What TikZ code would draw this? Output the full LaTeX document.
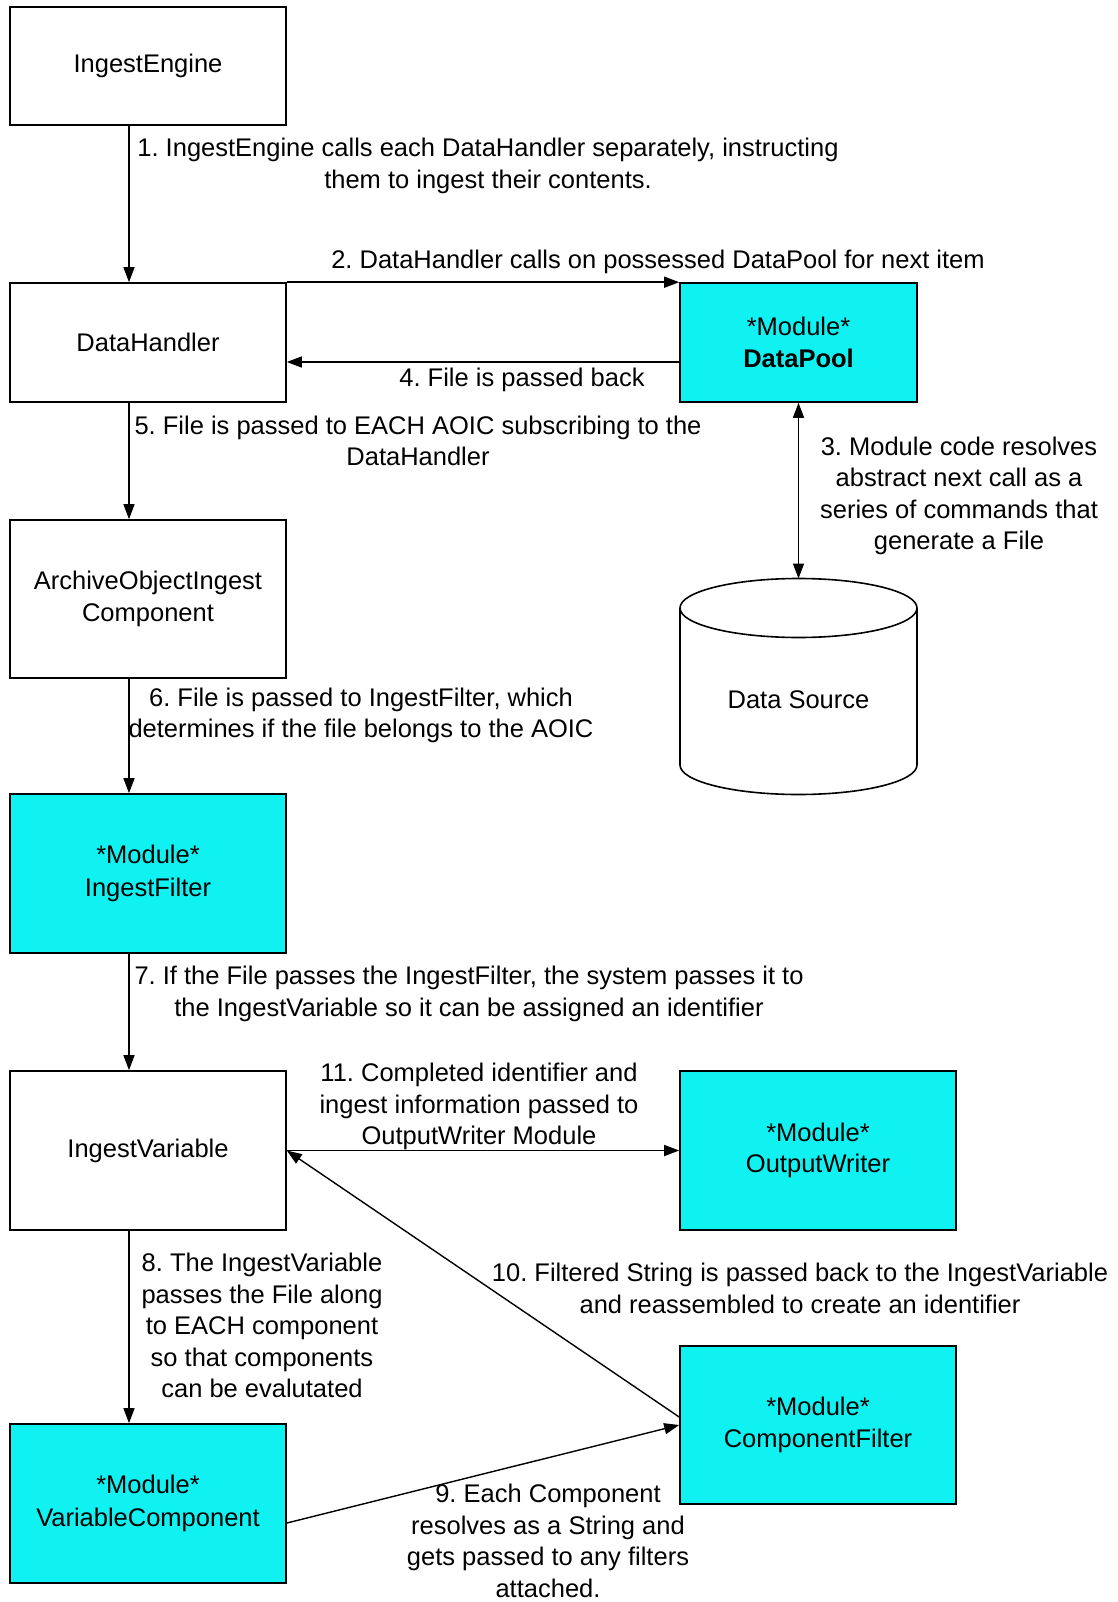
\documentclass[tikz,border=0pt]{standalone}
\usepackage{fontspec}
\setmainfont{Liberation Sans}
\frenchspacing
\usetikzlibrary{arrows.meta}
\definecolor{modcyan}{RGB}{16,242,242}
\tikzset{
  every node/.style={font=\fontsize{25.5}{31.5}\selectfont},
  box/.style={draw=black, line width=1.6pt, fill=white, align=center, inner sep=0pt},
  wbox/.style={box, minimum width=276pt},
  modbox/.style={box, fill=modcyan},
  lbl/.style={align=center, inner sep=0pt},
  arr/.style={line width=1.4pt, -{Triangle[length=15pt,width=11pt]}},
  darr/.style={line width=1.4pt, {Triangle[length=15pt,width=11pt]}-{Triangle[length=15pt,width=11pt]}},
}
\begin{document}
\begin{tikzpicture}[x=1pt,y=-1pt]
\useasboundingbox (0,0) rectangle (1117,1602);
\fill[white] (0,0) rectangle (1117,1602);

% boxes
\node[wbox, minimum height=118pt] (ie) at (148,66) {IngestEngine};
\node[wbox, minimum height=119pt] (dh) at (148,342.5) {DataHandler};
\node[modbox, minimum width=237pt, minimum height=119pt] (dp) at (798.5,342.5) {*Module*\\\textbf{DataPool}};
\node[wbox, minimum height=158pt] (aoic) at (148,599) {ArchiveObjectIngest\\Component};
\node[modbox, minimum width=276pt, minimum height=159pt] (ifl) at (148,873.5) {*Module*\\[2pt]IngestFilter};
\node[wbox, minimum height=159pt] (iv) at (148,1150.5) {IngestVariable};
\node[modbox, minimum width=276pt, minimum height=159pt] (ow) at (818,1150.5) {*Module*\\OutputWriter};
\node[modbox, minimum width=276pt, minimum height=158pt] (cf) at (818,1425) {*Module*\\ComponentFilter};
\node[modbox, minimum width=276pt, minimum height=159pt] (vc) at (148,1503.5) {*Module*\\[2pt]VariableComponent};

% data source cylinder
\draw[line width=1.6pt, fill=white] (680,608) -- (680,765) arc[start angle=180, end angle=360, x radius=118.5, y radius=-29.5] -- (917,608);
\draw[line width=1.6pt, fill=white] (798.5,608) ellipse [x radius=118.5, y radius=29.5];
\coordinate (dstop) at (798.5,578.5);
\node[lbl] (ds) at (798.5,700) {Data Source};

% column coordinate for the vertical arrows
\coordinate (colx) at (129,0);

% connectors
\draw[arr] (ie.south -| colx) -- (dh.north -| colx);
\draw[arr] (dh.north east) -- (dp.north west);
\draw[arr] ([yshift=-19.5pt]dp.west) -- ([yshift=-19.5pt]dh.east);
\draw[darr] (dp.south) -- (dstop);
\draw[arr] (dh.south -| colx) -- (aoic.north -| colx);
\draw[arr] (aoic.south -| colx) -- (ifl.north -| colx);
\draw[arr] (ifl.south -| colx) -- (iv.north -| colx);
\draw[arr] (iv.south -| colx) -- (vc.north -| colx);
\draw[arr] (iv.east) -- (ow.west);
\draw[arr] ([yshift=8pt]cf.west) -- (iv.east);
\draw[arr] ([yshift=-19.5pt]vc.east) -- (cf.west);

% labels
\node[lbl] (l1) at (488,166) {1. IngestEngine calls each DataHandler separately, instructing\\them to ingest their contents.};
\node[lbl] (l2) at (658,262) {2. DataHandler calls on possessed DataPool for next item};
\node[lbl] (l3) at (959,496) {3. Module code resolves\\abstract next call as a\\series of commands that\\generate a File};
\node[lbl] (l4) at (522,380) {4. File is passed back};
\node[lbl] (l5) at (418,441) {5. File is passed to EACH AOIC subscribing to the\\DataHandler};
\node[lbl] (l6) at (361,715.5) {6. File is passed to IngestFilter, which\\determines if the file belongs to the AOIC};
\node[lbl] (l7) at (469,994) {7. If the File passes the IngestFilter, the system passes it to\\the IngestVariable so it can be assigned an identifier};
\node[lbl] (l8) at (262,1325.5) {8. The IngestVariable\\passes the File along\\to EACH component\\so that components\\can be evalutated};
\node[lbl] (l9) at (548,1541) {9. Each Component\\resolves as a String and\\gets passed to any filters\\attached.};
\node[lbl] (l10) at (800,1288.5) {10. Filtered String is passed back to the IngestVariable\\and reassembled to create an identifier};
\node[lbl] (l11) at (479,1106.5) {11. Completed identifier and\\ingest information passed to\\OutputWriter Module};
\end{tikzpicture}
\end{document}
